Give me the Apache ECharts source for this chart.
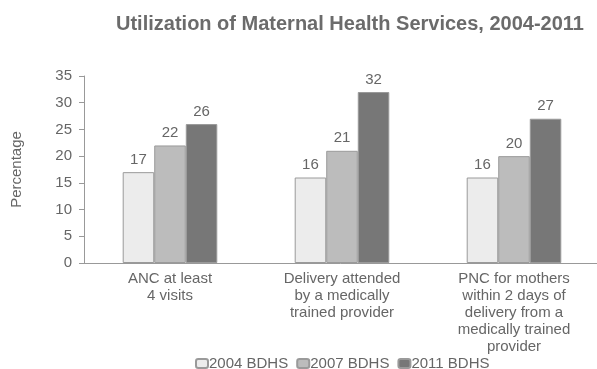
<!DOCTYPE html>
<html><head><meta charset="utf-8">
<script src="https://cdn.jsdelivr.net/npm/echarts@6/dist/echarts.min.js"></script>
<style>html,body{margin:0;padding:0;background:#fff}#c{width:597px;height:369px}</style>
</head><body><div id="c"></div>
<script>
const categories = ['ANC at least\n4 visits', 'Delivery attended\nby a medically\ntrained provider', 'PNC for mothers\nwithin 2 days of\ndelivery from a\nmedically trained\nprovider'];
const seriesNames = ['2004 BDHS', '2007 BDHS', '2011 BDHS'];
const v2004 = [17, 16, 16];
const v2007 = [22, 21, 20];
const v2011 = [26, 32, 27];
const colors = ['#ececec', '#bcbcbc', '#777777'];
const allVals = [v2004, v2007, v2011];

const chart = echarts.init(document.getElementById('c'));
chart.setOption({
  animation: false,
  title: {
    text: 'Utilization of Maternal Health Services, 2004-2011',
    left: 345, top: 9, textAlign: 'center',
    textStyle: {fontFamily: 'Liberation Sans', fontSize: 20, fontWeight: 'bold', color: '#6b6b6b'}
  },
  legend: {
    top: 351, left: 190,
    itemWidth: 12, itemHeight: 9, itemGap: 8,
    textStyle: {fontFamily: 'Liberation Sans', fontSize: 15, color: '#666', padding: [0,0,0,-4]},
    data: seriesNames
  },
  grid: {left: 84, top: 76, width: 516, height: 187, outerBoundsMode: 'none', containLabel: false},
  xAxis: {
    type: 'category', data: categories,
    axisLine: {lineStyle: {color: '#999'}},
    axisTick: {show: false},
    axisLabel: {fontFamily: 'Liberation Sans', fontSize: 15, color: '#666', lineHeight: 17, margin: 7}
  },
  yAxis: {
    type: 'value', min: 0, max: 35, interval: 5,
    name: 'Percentage', nameLocation: 'middle', nameGap: 60, nameRotate: 90,
    nameTextStyle: {fontFamily: 'Liberation Sans', fontSize: 15, color: '#666'},
    axisLine: {show: true, lineStyle: {color: '#999'}},
    axisTick: {show: true, length: 5, lineStyle: {color: '#999'}},
    splitLine: {show: false},
    axisLabel: {fontFamily: 'Liberation Sans', fontSize: 15, color: '#666', margin: 12}
  },
  series: seriesNames.map((n, i) => ({
    name: n, type: 'bar', data: allVals[i],
    barGap: '0%', barCategoryGap: '45%',
    itemStyle: {color: colors[i], borderColor: '#9a9a9a', borderWidth: 1},
    label: {show: true, position: 'top', distance: 5, fontFamily: 'Liberation Sans', fontSize: 15, color: '#666'}
  }))
});
</script></body></html>
